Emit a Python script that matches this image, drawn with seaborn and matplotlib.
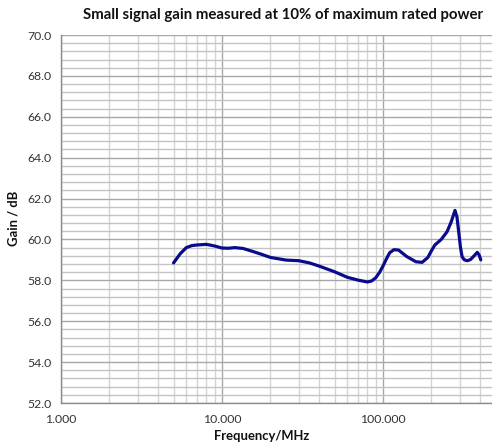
import numpy as np
import pandas as pd
import matplotlib
matplotlib.use("Agg")
import matplotlib.pyplot as plt
from matplotlib.ticker import LogLocator, FixedLocator, MultipleLocator, FormatStrFormatter, NullFormatter
import seaborn as sns

freq_mhz = [5, 5.5, 6, 6.5, 7, 8, 9, 10, 11, 12, 13.5, 15, 17.5, 20, 25, 30, 35, 40, 50, 60, 70,
            80, 85, 90, 95, 100, 105, 110, 117, 125, 140, 160, 175, 190, 200, 210, 230, 250,
            265, 280, 288, 295, 303, 310, 320, 335, 350, 370, 385, 395, 405]
gain_db = [58.85, 59.3, 59.6, 59.7, 59.73, 59.76, 59.68, 59.58, 59.57, 59.6, 59.56, 59.45,
           59.28, 59.12, 58.99, 58.96, 58.85, 58.7, 58.42, 58.15, 58.01, 57.92, 57.97, 58.12,
           58.38, 58.7, 59.05, 59.35, 59.5, 59.48, 59.17, 58.91, 58.88, 59.12, 59.45, 59.73,
           60.0, 60.38, 60.85, 61.42, 61.1, 60.4, 59.6, 59.15, 59.0, 58.96, 59.02, 59.22,
           59.37, 59.25, 59.0]

title = "Small signal gain measured at 10% of maximum rated power"
xlabel = "Frequency/MHz"
ylabel = "Gain / dB"
x_ticks = [1, 10, 100]
x_ticklabels = ["1.000", "10.000", "100.000"]

sns.set_style("white")
plt.rcParams['font.family'] = ['Lato', 'DejaVu Sans']

df = pd.DataFrame({"freq": freq_mhz, "gain": gain_db})

fig = plt.figure(figsize=(4.92, 4.47), dpi=100)
W, H = 492, 447
left, right, top, bottom = 61, 492, 35, 403
ax = fig.add_axes([left / W, 1 - bottom / H, (right - left) / W, (bottom - top) / H])

ax.set_xscale("log")
ax.set_xlim(1, 10 ** ((right - left) / 161.0))
ax.set_ylim(52, 70)

ax.xaxis.set_major_locator(FixedLocator(x_ticks))
ax.set_xticklabels(x_ticklabels)
ax.xaxis.set_minor_locator(LogLocator(base=10, subs=np.arange(2, 10)))
ax.xaxis.set_minor_formatter(NullFormatter())
ax.yaxis.set_major_locator(MultipleLocator(2))
ax.yaxis.set_minor_locator(MultipleLocator(0.4))
ax.yaxis.set_major_formatter(FormatStrFormatter("%.1f"))

ax.grid(True, which="major", axis="both", color="#a8a8a8", linewidth=1.0)
ax.grid(True, which="minor", axis="x", color="#d4d4d4", linewidth=1.0)
ax.grid(True, which="minor", axis="y", color="#c4c4c4", linewidth=1.0)
ax.set_axisbelow(True)

sns.lineplot(data=df, x="freq", y="gain", ax=ax, color="#0a0a8c", linewidth=2.3, zorder=3)

ax.set_xlabel("")
ax.set_ylabel("")
for s in ["top", "right"]:
    ax.spines[s].set_visible(False)
for s in ["left", "bottom"]:
    ax.spines[s].set_color("#8c8c8c")
    ax.spines[s].set_linewidth(1.0)

ax.tick_params(axis="both", which="major", direction="out", length=4, width=1,
               color="#8c8c8c", labelsize=8.8, labelcolor="#333333", pad=3)
ax.tick_params(axis="both", which="minor", length=0)
ax.tick_params(axis="x", which="major", pad=4)

fig.text(283 / W, 1 - 15 / H, title, ha="center", va="center", fontsize=10.8, fontweight="bold", color="#111111")
fig.text(262 / W, 1 - 436 / H, xlabel, ha="center", va="center", fontsize=9.4, fontweight="bold", color="#111111")
fig.text(14 / W, 1 - 218 / H, ylabel, ha="center", va="center", rotation=90, fontsize=9.4, fontweight="bold", color="#111111")

fig.savefig("out.png", dpi=100)
